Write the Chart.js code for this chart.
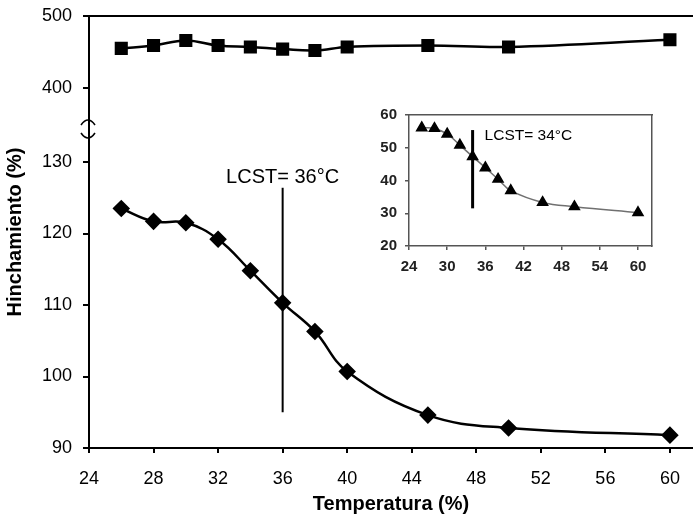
<!DOCTYPE html>
<html>
<head>
<meta charset="utf-8">
<script src="https://cdn.jsdelivr.net/npm/chart.js@4.4.1/dist/chart.umd.min.js"></script>
<style>
  html, body { margin: 0; padding: 0; background: #fff; }
  #wrap { position: relative; width: 693px; height: 516px; overflow: hidden; }
  #main { position: absolute; left: 0; top: 0; }
  #inset { position: absolute; left: 365px; top: 100px; }
</style>
</head>
<body>
<div id="wrap">
  <canvas id="main" width="693" height="516"></canvas>
  <canvas id="inset" width="295" height="185"></canvas>
</div>
<script>
// swelling vs temperature, upper branch / lower branch of the broken axis
const temperatures = [26, 28, 30, 32, 34, 36, 38, 40, 45, 50, 60]
const swellingHigh = [455, 459, 466, 459, 457, 454, 452, 457, 459, 457, 467]
const swellingLow = [123.5, 121.7, 121.5, 119.2, 114.8, 110.3, 106.3, 100.7, 94.6, 92.8, 91.8]
// small chart
const insetSwelling = [56.1, 55.9, 54.2, 50.8, 47.3, 43.9, 40.4, 36.9, 33.3, 32.0, 30.2]

const xTicksMain = [24, 28, 32, 36, 40, 44, 48, 52, 56, 60]
const yTicksLow = [90, 100, 110, 120, 130]
const yTicksHigh = [400, 500]
const xTicksInset = [24, 30, 36, 42, 48, 54, 60]
const yTicksInset = [20, 30, 40, 50, 60]

const lcstMain = 36
const lcstMainSpan = [95, 126.4]
const lcstInset = 34
const lcstInsetSpan = [31.5, 55.4]

const FONT = "'Liberation Sans', Arial, sans-serif"
Chart.defaults.font.family = FONT
Chart.defaults.color = '#000'
Chart.defaults.plugins.legend.display = false
Chart.defaults.plugins.tooltip.enabled = false
Chart.defaults.animation = false

const pairs = (xs, ys) => xs.map((x, i) => ({x, y: ys[i]}))
const fixTicks = list => scale => { scale.ticks = list.map(v => ({value: v})) }
// fixed axis sizes so the plot box lands where it should
const fitH = h => s => { s.height = h; s.paddingLeft = 0; s.paddingRight = 0 }
const fitV = w => s => { s.width = w; s.paddingTop = 0; s.paddingBottom = 0 }

// LCST caption + the axis break marks
const annotate = {
  id: 'annotate',
  afterDraw(chart, args, opts) {
    const {ctx, scales} = chart
    ctx.save()
    ctx.fillStyle = '#000'
    ctx.font = opts.font
    const x = scales.x.getPixelForValue(opts.lcst)
    const y = scales[opts.yAxis].getPixelForValue(opts.top)
    ctx.textAlign = opts.align
    ctx.textBaseline = 'alphabetic'
    ctx.fillText(opts.text, x + opts.dx, y + opts.dy)
    if (opts.brk) {
      const bx = scales.yLow.right - 1
      const by = scales.yLow.top
      ctx.strokeStyle = '#000'
      ctx.lineWidth = 1.6
      ctx.beginPath()
      ctx.moveTo(bx - 7, by - 3)
      ctx.quadraticCurveTo(bx, by - 13, bx + 7, by - 3)
      ctx.moveTo(bx - 7, by + 5)
      ctx.quadraticCurveTo(bx, by + 15, bx + 7, by + 5)
      ctx.stroke()
    }
    ctx.restore()
  }
}

const blackAxis = {color: '#000', width: 2}
const hidden = {display: false, drawTicks: false}

new Chart(document.getElementById('main'), {
  type: 'line',
  data: {
    datasets: [
      {
        yAxisID: 'yHigh',
        data: pairs(temperatures, swellingHigh),
        borderColor: '#000', borderWidth: 2.5,
        pointStyle: 'rect', pointRadius: 7.5,
        pointBackgroundColor: '#000', pointBorderColor: '#000',
        tension: 0.4
      },
      {
        yAxisID: 'yLow',
        data: pairs(temperatures, swellingLow),
        borderColor: '#000', borderWidth: 2.5,
        pointStyle: 'rectRot', pointRadius: 7,
        pointBackgroundColor: '#000', pointBorderColor: '#000',
        tension: 0.4
      },
      {
        yAxisID: 'yLow',
        data: lcstMainSpan.map(v => ({x: lcstMain, y: v})),
        borderColor: '#000', borderWidth: 2, pointRadius: 0
      }
    ]
  },
  options: {
    responsive: false,
    layout: {autoPadding: false, padding: {top: 16, right: 0, bottom: 0, left: 0}},
    scales: {
      x: {
        type: 'linear', position: 'bottom', min: 24, max: 61.43,
        afterBuildTicks: fixTicks(xTicksMain),
        afterFit: fitH(68),
        ticks: {padding: 15, font: {size: 18}, maxRotation: 0},
        grid: {drawOnChartArea: false, tickLength: 5, color: '#000', lineWidth: 2},
        border: blackAxis,
        title: {display: true, text: 'Temperatura (%)', font: {size: 20, weight: 'bold'}, padding: {top: 3, bottom: 0}}
      },
      xTop: {
        type: 'linear', position: 'top', min: 24, max: 61.43,
        afterFit: fitH(0),
        ticks: {display: false}, grid: hidden, border: blackAxis
      },
      yTitle: {
        type: 'linear', position: 'left', weight: 1,
        afterFit: fitV(27),
        ticks: {display: false}, grid: hidden, border: {display: false},
        title: {display: true, text: 'Hinchamiento (%)', font: {size: 20, weight: 'bold'}, padding: {top: 3, bottom: 0}}
      },
      yLow: {
        type: 'linear', position: 'left', stack: 'swell', stackWeight: 320,
        min: 90, max: 134.76,
        afterBuildTicks: fixTicks(yTicksLow),
        afterFit: fitV(62),
        ticks: {padding: 11, font: {size: 18}},
        grid: {drawOnChartArea: false, tickLength: 6, color: '#000', lineWidth: 2},
        border: blackAxis
      },
      yHigh: {
        type: 'linear', position: 'left', stack: 'swell', stackWeight: 112,
        min: 344.4, max: 500,
        afterBuildTicks: fixTicks(yTicksHigh),
        afterFit: fitV(62),
        ticks: {padding: 11, font: {size: 18}},
        grid: {drawOnChartArea: false, tickLength: 6, color: '#000', lineWidth: 2},
        border: blackAxis
      }
    },
    plugins: {
      annotate: {
        lcst: lcstMain, top: lcstMainSpan[1], yAxis: 'yLow',
        text: 'LCST= 36°C', font: '20px ' + FONT, align: 'center', dx: 0, dy: -5,
        brk: true
      }
    }
  },
  plugins: [annotate]
})

const frame = {color: '#555', width: 1.5}

new Chart(document.getElementById('inset'), {
  type: 'line',
  data: {
    datasets: [
      {
        data: pairs(temperatures, insetSwelling),
        borderColor: '#707070', borderWidth: 1.5,
        pointStyle: 'triangle', pointRadius: 5.8,
        pointBackgroundColor: '#000', pointBorderColor: '#000',
        tension: 0.4
      },
      {
        data: lcstInsetSpan.map(v => ({x: lcstInset, y: v})),
        borderColor: '#000', borderWidth: 3, pointRadius: 0
      }
    ]
  },
  options: {
    responsive: false,
    layout: {autoPadding: false, padding: {top: 15, right: 8, bottom: 0, left: 0}},
    scales: {
      x: {
        type: 'linear', position: 'bottom', min: 24, max: 62.2,
        afterBuildTicks: fixTicks(xTicksInset),
        afterFit: fitH(39),
        ticks: {padding: 8, font: {size: 15, weight: 'bold'}, color: '#222', maxRotation: 0},
        grid: {drawOnChartArea: false, tickLength: 4, color: '#555', lineWidth: 1.5},
        border: frame
      },
      xTop: {
        type: 'linear', position: 'top', min: 24, max: 62.2,
        afterFit: fitH(0),
        ticks: {display: false}, grid: hidden, border: frame
      },
      y: {
        type: 'linear', position: 'left', min: 20, max: 60,
        afterBuildTicks: fixTicks(yTicksInset),
        afterFit: fitV(44),
        ticks: {padding: 8, font: {size: 15, weight: 'bold'}, color: '#222'},
        grid: {drawOnChartArea: false, tickLength: 4, color: '#555', lineWidth: 1.5},
        border: frame
      },
      yRight: {
        type: 'linear', position: 'right', min: 20, max: 60,
        afterFit: fitV(0),
        ticks: {display: false}, grid: hidden, border: frame
      }
    },
    plugins: {
      annotate: {
        lcst: lcstInset, top: lcstInsetSpan[1], yAxis: 'y',
        text: 'LCST= 34°C', font: '15.5px ' + FONT, align: 'left', dx: 12, dy: 10,
        brk: false
      }
    }
  },
  plugins: [annotate]
})
</script>
</body>
</html>
